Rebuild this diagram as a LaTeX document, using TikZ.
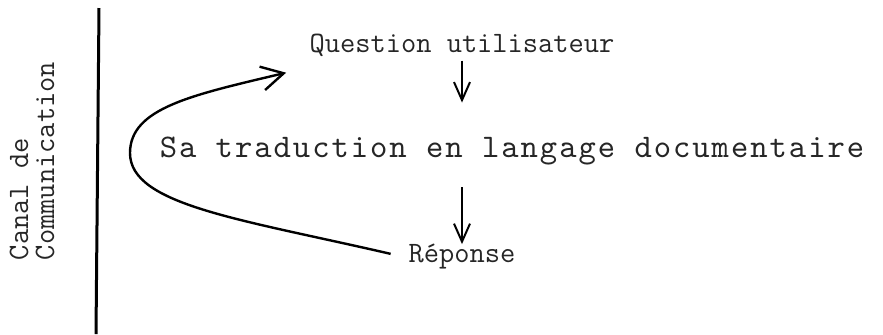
\documentclass[tikz,border=0pt]{standalone}
\usepackage{fontspec}
\newfontfamily\spacedmono[LetterSpace=6]{lmmono10-regular.otf}
\usepackage{tikz}
\usetikzlibrary{arrows.meta, positioning, calc}
\tikzstyle{stage} = [font=\fontsize{14.8}{17}\ttfamily, inner sep=2pt, text=black!85]
\tikzstyle{widestage} = [stage, font=\fontsize{16.5}{19}\spacedmono]
\tikzstyle{side} = [font=\fontsize{14.8}{13}\ttfamily, inner sep=0pt, align=left, rotate=90, text=black!85]
\tikzstyle{link} = [line width=1pt, -{Straight Barb[length=9pt,width=8pt]}]
\tikzstyle{loop} = [line width=1.2pt, -{Straight Barb[length=11pt,width=12pt]}]

\begin{document}
\begin{tikzpicture}[x=0.5pt, y=-0.5pt, node distance=53pt]
\useasboundingbox (0,0) rectangle (883,334);

% channel on the left
\node (canal) [side] at (32,161) {Canal de\\Communication};
\draw [line width=1.5pt] (99,8) -- (96,334);

% chain of steps
\node (question) [stage] at (462,45) {Question utilisateur};
\node (trad) [widestage, below of=question, xshift=25pt] {Sa traduction en langage documentaire};
\node (reponse) [stage, below of=question, yshift=-53pt] {Réponse};

\draw [link, shorten >=15pt] (question) -- (question |- trad.north);
\draw [link, shorten <=9pt, shorten >=-2pt] (trad.south -| question) -- (reponse);
\draw [loop, shorten <=7pt] (reponse.west) .. controls (240,219) and (130,205) .. (130,153)
  .. controls (130,108) and (192,95) .. ([shift={(-19,12)}]question.south west);
\end{tikzpicture}
\end{document}
